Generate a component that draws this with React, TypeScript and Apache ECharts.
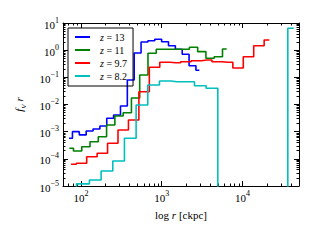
import { useEffect, useRef } from 'react';
import * as echarts from 'echarts';

// axis ranges
const X_MIN = 60;
const X_MAX = 50000;
const Y_MIN = 1e-5;
const Y_MAX = 10;
// an empty bin (zero) drawn on the log axis, clipped below the frame
const EMPTY = 1e-12;

const seriesNames = ['z = 13', 'z = 11', 'z = 9.7', 'z = 8.2'];
const seriesColors = ['#0000ff', '#008000', '#ff0000', '#00bfbf'];

// bin centres r [ckpc] and values f_V r
const rZ13 = [71.2, 86.6, 105.3, 128.1, 155.7, 189.4, 230.2, 279.9, 340.4, 413.9, 503.2, 611.8, 743.9, 904.5, 1100, 1337, 1626, 1977, 2404, 2923];
const fZ13 = [5.7e-4, 1.0e-3, 7.6e-4, 1.06e-3, 1.26e-3, 1.62e-3, 3.1e-3, 4.1e-3, 8.8e-3, 0.08, 0.79, 2.0, 2.23, 2.51, 2.05, 1.46, 1.08, 0.705, 0.268, 0.182];

const rZ11 = [71.9, 91.0, 115.2, 145.8, 184.6, 233.8, 296.0, 374.8, 474.6, 600.8, 760.7, 963.2, 1220, 1544, 1955, 2476, 3134, 3968, 5023, 6361];
const fZ11 = [2.44e-4, 1.94e-4, 2.8e-4, 4.27e-4, 6.5e-4, 1.76e-3, 3.78e-3, 5.0e-3, 0.0174, 0.122, 0.767, 1.08, 1.08, 1.08, 1.08, 1.28, 0.88, 0.502, 0.575, 1.1];

const rZ97 = [75.4, 101.6, 136.7, 184.1, 248.0, 333.9, 449.5, 605.3, 815.1, 1098, 1478, 1990, 2679, 3608, 4858, 6541, 8807, 11858, 15966, 21498];
const fZ97 = [6.3e-5, 6.9e-5, 1.2e-4, 1.6e-4, 3.73e-4, 1.15e-3, 2.69e-3, 0.0296, 0.234, 0.358, 0.346, 0.377, 0.41, 0.435, 0.377, 0.358, 0.221, 0.575, 1.45, 2.37];

const rZ82 = [72.0, 107.9, 150.5, 209.9, 292.6, 408.1, 569.2, 793.6, 1107, 1543, 2153, 3002, 4187, 5838, 8141, 11355, 15833, 22080, 30790, 42940];
const fZ82 = [EMPTY, 1.2e-5, 1.67e-5, 3.57e-5, 8.3e-5, 5.7e-4, 9.6e-3, 0.052, 0.073, 0.069, 0.069, 0.049, 0.0395, EMPTY, EMPTY, EMPTY, EMPTY, EMPTY, EMPTY, 6.4];

const xMajor = [100, 1000, 10000];
const yMajor = [1e-5, 1e-4, 1e-3, 1e-2, 1e-1, 1, 10];

const SERIF = "'Liberation Serif', 'DejaVu Serif', serif";

function minorTicks(lo: number, hi: number): number[] {
  const out: number[] = [];
  for (let e = -6; e <= 5; e++) {
    for (let k = 2; k <= 9; k++) {
      const v = k * Math.pow(10, e);
      if (v >= lo * 0.999 && v <= hi * 1.001) out.push(v);
    }
  }
  return out;
}

function powLabel(v: number): string {
  const e = Math.round(Math.log10(v));
  const s = e < 0 ? '\u2212' + -e : String(e);
  return `{b|10}{s|${s}}`;
}

const labelRich = {
  b: { fontSize: 11, fontFamily: SERIF, color: '#000', lineHeight: 14, verticalAlign: 'bottom' },
  s: { fontSize: 8, fontFamily: SERIF, color: '#000', lineHeight: 8, verticalAlign: 'top' },
};

function makeAxis(kind: 'x' | 'y', position: string, major: boolean, showLabel: boolean) {
  const lo = kind === 'x' ? X_MIN : Y_MIN;
  const hi = kind === 'x' ? X_MAX : Y_MAX;
  const ticks = major ? (kind === 'x' ? xMajor : yMajor) : minorTicks(lo, hi);
  return {
    type: 'log',
    logBase: 10,
    min: lo,
    max: hi,
    position,
    axisLine: { show: major, onZero: false, lineStyle: { color: '#000', width: 1 } },
    axisTick: {
      show: true,
      inside: true,
      length: major ? 5 : 2.5,
      customValues: ticks,
      lineStyle: { color: '#000', width: 1 },
    },
    axisLabel: showLabel
      ? {
          show: true,
          customValues: ticks,
          margin: kind === 'x' ? 3 : 4,
          formatter: (v: number) => powLabel(v),
          rich: labelRich,
        }
      : { show: false },
    splitLine: { show: false },
    minorTick: { show: false },
    minorSplitLine: { show: false },
  };
}

export default function App() {
  const ref = useRef<HTMLDivElement>(null);
  useEffect(() => {
    document.body.style.margin = '0';
    if (!ref.current) return;
    const chart = echarts.init(ref.current, undefined, { renderer: 'svg' });
    const rs = [rZ13, rZ11, rZ97, rZ82];
    const fs = [fZ13, fZ11, fZ97, fZ82];

    const xBottom: any = makeAxis('x', 'bottom', true, true);
    xBottom.name = 'log {i|r} [ckpc]';
    xBottom.nameLocation = 'middle';
    xBottom.nameGap = 23;
    xBottom.nameTextStyle = {
      fontSize: 11,
      fontFamily: SERIF,
      color: '#000',
      rich: { i: { fontSize: 11, fontFamily: SERIF, fontStyle: 'italic', color: '#000' } },
    };
    const yLeft: any = makeAxis('y', 'left', true, true);
    yLeft.name = '{i|f}{v|V} {i|r}';
    yLeft.nameLocation = 'middle';
    yLeft.nameGap = 36;
    yLeft.nameTextStyle = {
      fontSize: 11,
      fontFamily: SERIF,
      color: '#000',
      rich: {
        i: { fontSize: 11, fontFamily: SERIF, fontStyle: 'italic', color: '#000', lineHeight: 14, verticalAlign: 'top' },
        v: { fontSize: 7, fontFamily: SERIF, fontStyle: 'italic', color: '#000', lineHeight: 7, verticalAlign: 'bottom' },
      },
    };

    chart.setOption({
      animation: false,
      grid: { left: 63, right: 19, top: 23, bottom: 54, containLabel: false },
      legend: {
        orient: 'vertical',
        left: 68,
        top: 28,
        icon: 'rect',
        itemWidth: 15,
        itemHeight: 2,
        itemGap: 3,
        padding: [4, 6, 5, 7],
        borderColor: '#000',
        borderWidth: 1,
        borderRadius: 0,
        selectedMode: false,
        data: seriesNames,
        formatter: (name: string) => name.replace('z', '{i|z}'),
        textStyle: {
          fontSize: 10,
          fontFamily: SERIF,
          color: '#000',
          padding: [0, 0, 0, 5],
          rich: { i: { fontSize: 10, fontFamily: SERIF, fontStyle: 'italic', color: '#000' } },
        },
      },
      xAxis: [
        xBottom,
        makeAxis('x', 'top', true, false),
        makeAxis('x', 'bottom', false, false),
        makeAxis('x', 'top', false, false),
      ],
      yAxis: [
        yLeft,
        makeAxis('y', 'right', true, false),
        makeAxis('y', 'left', false, false),
        makeAxis('y', 'right', false, false),
      ],
      series: seriesNames.map((name, i) => ({
        name,
        type: 'line',
        xAxisIndex: 0,
        yAxisIndex: 0,
        step: 'middle',
        symbol: 'none',
        showSymbol: false,
        clip: true,
        color: seriesColors[i],
        lineStyle: { color: seriesColors[i], width: 1.6 },
        data: rs[i].map((r, j) => [r, fs[i][j]]),
      })),
    });
    return () => chart.dispose();
  }, []);
  return <div ref={ref} style={{ width: 318, height: 240 }} />;
}
